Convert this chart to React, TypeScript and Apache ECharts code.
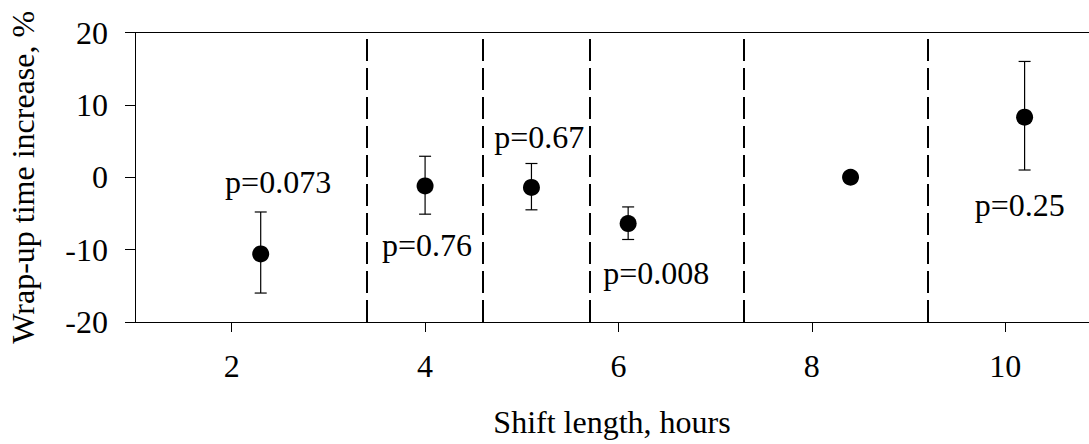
import React, { useEffect, useRef } from "react";
import * as echarts from "echarts";

const xValues = [2.3, 4.0, 5.1, 6.1, 8.4, 10.2];
const meanValues = [-10.6, -1.2, -1.4, -6.4, 0.0, 8.3];
const lowerValues: (number | null)[] = [-16.0, -5.1, -4.5, -8.6, null, 1.0];
const upperValues: (number | null)[] = [-4.8, 2.9, 1.9, -4.1, null, 16.0];
const boundaryValues = [3.4, 4.6, 5.7, 7.3, 9.2];
const xTicks = [2, 4, 6, 8, 10];
const pLabels = ["p=0.073", "p=0.76", "p=0.67", "p=0.008", "p=0.25"];
const pLabelX = [2.48, 4.02, 5.18, 6.39, 10.15];
const pLabelY = [-0.72, -9.35, 5.6, -13.26, -3.9];

const FONT = "'Liberation Serif', 'Times New Roman', serif";

export default function App() {
  const ref = useRef<HTMLDivElement>(null);
  useEffect(() => {
    if (!ref.current) return;
    const chart = echarts.init(ref.current, undefined, { renderer: "svg" });
    const errData = xValues
      .map((x, i) => [x, lowerValues[i], upperValues[i]])
      .filter((d) => d[1] !== null && d[2] !== null);
    const option: any = {
      animation: false,
      backgroundColor: "#fff",
      textStyle: { fontFamily: FONT },
      grid: { left: 135, right: 0, top: 32.5, bottom: 122, containLabel: false, outerBoundsMode: "none" },
      xAxis: [
        {
          type: "value",
          position: "bottom",
          min: 1,
          max: 10.866,
          name: "Shift length, hours",
          nameLocation: "middle",
          nameGap: 84,
          nameTextStyle: { fontFamily: FONT, fontSize: 32, color: "#000" },
          axisLine: { show: true, onZero: false, lineStyle: { color: "#000", width: 1 } },
          axisTick: {
            show: true,
            inside: false,
            length: 10,
            customValues: xTicks,
            lineStyle: { color: "#000", width: 1 },
          },
          axisLabel: {
            show: true,
            margin: 28,
            customValues: xTicks,
            fontFamily: FONT,
            fontSize: 32,
            color: "#000",
          },
          splitLine: { show: false },
        },
        {
          type: "value",
          position: "top",
          min: 1,
          max: 10.866,
          axisLine: { show: true, onZero: false, lineStyle: { color: "#000", width: 1 } },
          axisTick: { show: false },
          axisLabel: { show: false },
          splitLine: { show: false },
        },
      ],
      yAxis: {
        type: "value",
        min: -20,
        max: 20,
        interval: 10,
        name: "Wrap-up time increase, %",
        nameLocation: "middle",
        nameGap: 96,
        nameTextStyle: { fontFamily: FONT, fontSize: 32, color: "#000" },
        axisLine: { show: true, lineStyle: { color: "#000", width: 1 } },
        axisTick: { show: true, inside: false, length: 10, lineStyle: { color: "#000", width: 1 } },
        axisLabel: { margin: 27, fontFamily: FONT, fontSize: 32, color: "#000" },
        splitLine: { show: false },
      },
      series: [
        {
          type: "custom",
          xAxisIndex: 0,
          silent: true,
          data: errData,
          renderItem: (params: any, api: any) => {
            const x = api.value(0);
            const lo = api.coord([x, api.value(1)]);
            const hi = api.coord([x, api.value(2)]);
            const half = 6;
            const style = { stroke: "#000", lineWidth: 1.2, opacity: 1 };
            return {
              type: "group",
              children: [
                { type: "line", shape: { x1: lo[0], y1: lo[1], x2: hi[0], y2: hi[1] }, style },
                { type: "line", shape: { x1: lo[0] - half, y1: lo[1], x2: lo[0] + half, y2: lo[1] }, style },
                { type: "line", shape: { x1: hi[0] - half, y1: hi[1], x2: hi[0] + half, y2: hi[1] }, style },
              ],
            };
          },
          z: 2,
        },
        {
          type: "scatter",
          xAxisIndex: 0,
          silent: true,
          symbol: "circle",
          symbolSize: 17,
          itemStyle: { color: "#000", opacity: 1 },
          data: xValues.map((x, i) => [x, meanValues[i]]),
          z: 3,
          markLine: {
            silent: true,
            symbol: ["none", "none"],
            label: { show: false },
            lineStyle: { color: "#000", width: 2, type: [22, 7], opacity: 1 },
            data: boundaryValues.map((v) => ({ xAxis: v })),
          },
        },
        {
          type: "scatter",
          xAxisIndex: 0,
          silent: true,
          symbolSize: 0,
          itemStyle: { opacity: 1 },
          data: pLabels.map((t, i) => ({ name: t, value: [pLabelX[i], pLabelY[i]] })),
          label: {
            show: true,
            position: "inside",
            formatter: (p: any) => p.name,
            fontFamily: FONT,
            fontSize: 32,
            color: "#000",
            opacity: 1,
          },
          z: 4,
        },
      ],
    };
    chart.setOption(option);
    return () => chart.dispose();
  }, []);
  return (
    <div
      ref={ref}
      style={{ position: "fixed", left: 0, top: 0, width: 1089, height: 444, background: "#fff" }}
    />
  );
}
